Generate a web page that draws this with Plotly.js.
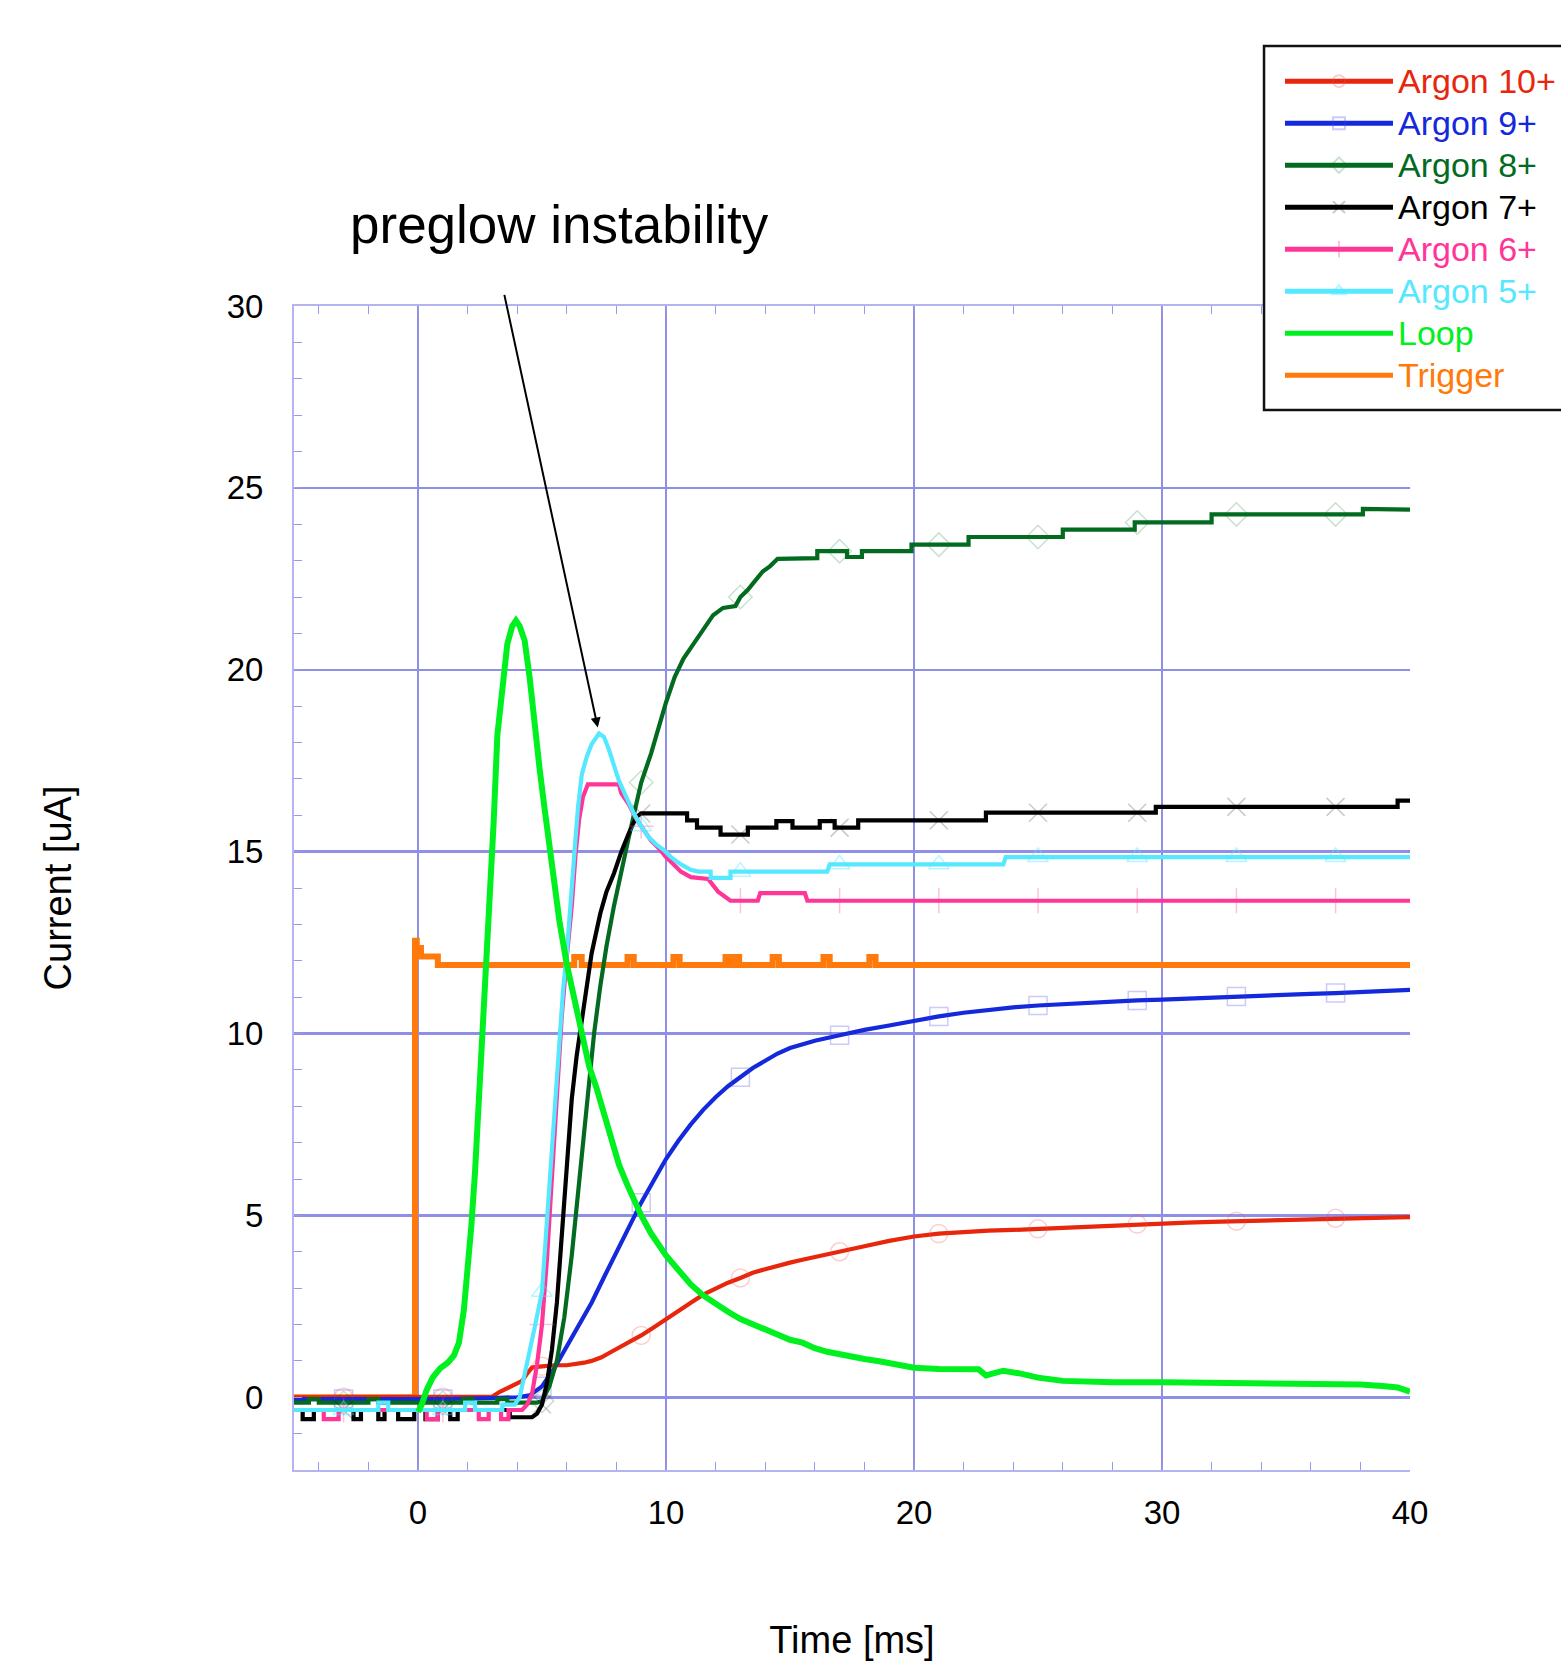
<!DOCTYPE html>
<html><head><meta charset="utf-8">
<script src="https://cdn.plot.ly/plotly-3.0.1.min.js"></script>
<style>html,body{margin:0;padding:0;background:#fff;} #chart{width:1561px;height:1664px;}</style>
</head><body><div id="chart"></div>
<script>
// x positions (ms) where the faint series symbols sit
const markerTimes = [-3, 1, 5, 9, 13, 17, 21, 25, 29, 33, 37];

// [time ms, current uA]
const argon10 = [[-5,0],[-3,0],[-1,0],[1,0],[3,0.02],[3.3,0.15],[3.6,0.25],[3.9,0.35],[4.2,0.45],[4.4,0.65],[4.6,0.82],[5,0.85],[5.5,0.88],[6,0.88],[6.3,0.9],[6.7,0.95],[7,1.0],[7.4,1.1],[7.8,1.25],[8.2,1.4],[8.6,1.55],[9,1.7],[9.5,1.92],[10,2.15],[10.5,2.4],[11,2.6],[11.5,2.82],[12,3.0],[12.5,3.15],[13,3.28],[13.5,3.42],[14,3.52],[14.5,3.62],[15,3.7],[15.5,3.78],[16,3.85],[17,4.0],[18,4.15],[19,4.3],[20,4.42],[21,4.5],[22,4.55],[23,4.58],[24,4.6],[25,4.63],[26,4.66],[27,4.7],[28,4.73],[29,4.76],[30,4.79],[31,4.8],[32,4.82],[33,4.84],[34,4.86],[35,4.88],[36,4.9],[37,4.92],[38,4.93],[39,4.94],[40,4.95]];

const argon9 = [[-5,-0.05],[-3,-0.05],[-1,-0.05],[1,-0.05],[3,-0.02],[4,0],[4.5,0.05],[5,0.3],[5.5,0.8],[6,1.4],[6.5,2.0],[7,2.6],[7.5,3.3],[8,4.0],[8.5,4.7],[9,5.35],[9.5,5.95],[10,6.55],[10.5,7.05],[11,7.5],[11.5,7.9],[12,8.25],[12.5,8.55],[13,8.8],[13.5,9.05],[14,9.25],[14.5,9.45],[15,9.6],[16,9.8],[17,9.95],[18,10.1],[19,10.22],[20,10.35],[21,10.47],[22,10.57],[23,10.65],[24,10.72],[25,10.77],[26,10.81],[27,10.85],[28,10.88],[29,10.91],[30,10.93],[31,10.96],[32,10.99],[33,11.02],[34,11.04],[35,11.06],[36,11.09],[37,11.11],[38,11.14],[39,11.17],[40,11.2]];

const argon8 = [[-5,-0.15],[-4.4,-0.15],[-4.4,-0.05],[-4.0,-0.05],[-4.0,-0.15],[-3,-0.15],[-2.0,-0.15],[-2.0,-0.05],[-1.6,-0.05],[-1.6,-0.15],[1,-0.15],[1.8,-0.15],[1.8,-0.05],[2.2,-0.05],[2.2,-0.15],[3.2,-0.15],[3.2,-0.05],[3.6,-0.05],[3.6,-0.15],[4.8,-0.15],[5,-0.1],[5.3,0.3],[5.6,1.0],[5.9,2.2],[6.2,3.9],[6.5,5.9],[6.8,8.0],[7.1,10.0],[7.35,11.3],[7.6,12.4],[7.9,13.5],[8.2,14.5],[8.5,15.4],[8.8,16.3],[9,16.9],[9.4,17.7],[9.7,18.4],[10,19.1],[10.35,19.8],[10.7,20.3],[11,20.6],[11.4,21.0],[11.9,21.5],[12.3,21.7],[12.8,21.75],[13,22.0],[13.3,22.2],[13.6,22.45],[13.9,22.7],[14.2,22.85],[14.5,23.05],[16.1,23.07],[16.1,23.26],[17,23.26],[17.3,23.26],[17.3,23.1],[17.9,23.1],[17.9,23.26],[19.9,23.26],[19.9,23.44],[21,23.44],[22.2,23.44],[22.2,23.65],[25,23.65],[26,23.65],[26,23.85],[28.9,23.85],[28.9,24.05],[29,24.05],[32,24.05],[32,24.27],[33,24.27],[37,24.27],[38.1,24.27],[38.1,24.42],[40,24.4]];

const argon7 = [[-5,-0.35],[-4.65,-0.35],[-4.65,-0.6],[-4.2,-0.6],[-4.2,-0.35],[-3,-0.35],[-2.6,-0.35],[-2.6,-0.6],[-2.3,-0.6],[-2.3,-0.35],[-1.6,-0.35],[-1.6,-0.6],[-1.35,-0.6],[-1.35,-0.35],[-0.8,-0.35],[-0.8,-0.6],[-0.15,-0.6],[-0.15,-0.35],[0.3,-0.35],[0.3,-0.6],[0.8,-0.6],[0.8,-0.35],[1,-0.35],[1.3,-0.35],[1.3,-0.6],[1.6,-0.6],[1.6,-0.35],[3.7,-0.35],[3.7,-0.55],[4.6,-0.55],[4.8,-0.45],[5,-0.2],[5.2,0.4],[5.4,1.3],[5.6,2.6],[5.8,4.5],[6,6.5],[6.2,8.2],[6.4,9.4],[6.6,10.3],[6.8,11.3],[7,12.2],[7.35,13.3],[7.6,13.9],[7.9,14.4],[8.2,15.0],[8.5,15.5],[8.8,15.95],[9,16.05],[10.85,16.05],[10.85,15.86],[11.25,15.86],[11.25,15.66],[12.2,15.66],[12.2,15.47],[13,15.47],[13.3,15.47],[13.3,15.66],[14.45,15.66],[14.45,15.84],[15.1,15.84],[15.1,15.66],[16.2,15.66],[16.2,15.84],[16.8,15.84],[16.8,15.66],[17,15.66],[17.75,15.66],[17.75,15.86],[21,15.86],[22.9,15.86],[22.9,16.07],[25,16.07],[29,16.07],[29.75,16.07],[29.75,16.23],[33,16.23],[37,16.23],[39.5,16.23],[39.5,16.4],[40,16.4]];

const argon6 = [[-5,-0.35],[-3.8,-0.35],[-3.8,-0.6],[-3.2,-0.6],[-3.2,-0.35],[-3,-0.35],[0.35,-0.35],[0.35,-0.6],[0.8,-0.6],[0.8,-0.35],[1,-0.35],[2.45,-0.35],[2.45,-0.6],[2.85,-0.6],[2.85,-0.35],[3.35,-0.35],[3.35,-0.6],[3.65,-0.6],[3.65,-0.35],[4.2,-0.35],[4.4,-0.2],[4.6,0.1],[4.8,0.9],[5,2.0],[5.2,3.8],[5.4,6.0],[5.6,8.4],[5.8,10.5],[6,12.1],[6.2,13.5],[6.35,14.9],[6.5,15.9],[6.65,16.5],[6.85,16.85],[8.1,16.85],[8.2,16.6],[8.5,16.3],[8.8,15.9],[9,15.7],[9.1,15.6],[9.4,15.3],[9.7,15.1],[10,14.85],[10.3,14.65],[10.6,14.45],[11,14.3],[11.7,14.25],[12.1,13.9],[12.6,13.65],[13,13.65],[13.7,13.65],[13.8,13.86],[15.6,13.86],[15.7,13.65],[17,13.65],[21,13.65],[25,13.65],[29,13.65],[33,13.65],[37,13.65],[40,13.65]];

const argon5 = [[-5,-0.35],[-3,-0.35],[-1.6,-0.35],[-1.6,-0.15],[-1.2,-0.15],[-1.2,-0.35],[1,-0.35],[1.9,-0.35],[1.9,-0.15],[2.3,-0.15],[2.3,-0.35],[3.4,-0.35],[3.4,-0.2],[3.9,-0.2],[4.1,0.0],[4.3,0.6],[4.5,1.2],[4.7,1.9],[5,2.9],[5.1,3.9],[5.3,5.9],[5.5,8.0],[5.7,9.9],[5.85,11.2],[6,12.2],[6.15,13.4],[6.3,14.9],[6.45,16.2],[6.6,17.1],[6.8,17.6],[7,17.95],[7.3,18.25],[7.5,18.15],[7.7,17.8],[7.9,17.35],[8.1,16.95],[8.4,16.5],[8.7,16.05],[9,15.7],[9.3,15.4],[9.6,15.2],[9.9,15.05],[10.2,14.85],[10.6,14.65],[11,14.5],[11.3,14.45],[11.8,14.45],[11.8,14.28],[12.6,14.28],[12.6,14.45],[13,14.45],[16.5,14.45],[16.6,14.65],[17,14.65],[21,14.65],[23.6,14.65],[23.7,14.85],[25,14.85],[29,14.85],[33,14.85],[37,14.85],[40,14.85]];

const loop = [[0,-0.4],[0.15,-0.2],[0.35,0.2],[0.6,0.55],[0.9,0.8],[1.2,0.95],[1.45,1.15],[1.65,1.5],[1.85,2.4],[2,3.4],[2.15,4.7],[2.3,6.2],[2.45,8.0],[2.6,10.0],[2.75,11.9],[2.9,14.0],[3.05,15.8],[3.2,18.2],[3.4,19.6],[3.6,20.7],[3.8,21.2],[3.95,21.35],[4.1,21.2],[4.3,20.8],[4.5,19.8],[4.7,18.4],[4.9,17.3],[5.1,16.2],[5.4,14.6],[5.7,13.1],[6,11.9],[6.3,10.9],[6.6,9.9],[6.9,9.1],[7.2,8.5],[7.5,7.8],[7.8,7.1],[8.1,6.4],[8.4,5.9],[8.7,5.4],[9,5.0],[9.4,4.5],[9.7,4.2],[10,3.9],[10.5,3.5],[11,3.1],[11.5,2.8],[12,2.55],[12.5,2.35],[13,2.15],[13.5,2.0],[14,1.85],[14.5,1.7],[15,1.58],[15.5,1.5],[16,1.35],[16.5,1.25],[17,1.17],[18,1.05],[18.6,0.99],[19.3,0.88],[20,0.81],[21,0.78],[22,0.77],[22.6,0.77],[22.9,0.6],[23.6,0.73],[24.3,0.65],[25,0.54],[26,0.45],[27,0.41],[28,0.41],[30,0.41],[31,0.4],[32,0.39],[33,0.38],[34,0.39],[35,0.37],[36,0.37],[37,0.37],[38,0.35],[39,0.3],[39.5,0.27],[40,0.15]];

const trigger = [[-5,0],[-0.12,12.55],[-0.05,12.35],[0.12,12.12],[0.8,11.88],[6.3,12.1],[6.6,11.88],[8.45,12.1],[8.7,11.88],[10.3,12.1],[10.55,11.88],[12.4,12.1],[12.6,11.88],[12.8,12.1],[12.95,11.88],[14.3,12.1],[14.55,11.88],[16.35,12.1],[16.6,11.88],[18.2,12.1],[18.45,11.88],[40,11.88]];

const seriesNames = ['Argon 10+','Argon 9+','Argon 8+','Argon 7+','Argon 6+','Argon 5+','Loop','Trigger'];
const xTickValues = [0, 10, 20, 30, 40];
const yTickValues = [0, 5, 10, 15, 20, 25, 30];

function tr(data, idx, color, width, symbol, mColor, shape) {
  const xs = data.map(p => p[0]);
  const ys = data.map(p => p[1]);
  const t = {
    type: 'scatter', x: xs, y: ys,
    name: '<span style="color:' + color + ';font-size:34px">' + seriesNames[idx] + '</span>',
    legendrank: idx + 1,
    line: {color: color, width: width, shape: shape || 'linear'},
    mode: symbol ? 'lines+markers' : 'lines',
    hoverinfo: 'skip', cliponaxis: true
  };
  if (symbol) {
    t.marker = {symbol: symbol, color: mColor,
      size: xs.map(v => markerTimes.indexOf(v) >= 0 ? 18 : 0),
      line: {color: mColor, width: 1.5}};
  }
  return t;
}

const traces = [
  tr(trigger, 7, '#ff7a0a', 6, null, null, 'hv'),
  tr(argon10, 0, '#e8260c', 4.2, 'circle-open', 'rgba(240,80,80,0.4)'),
  tr(argon9, 1, '#1428dc', 4.2, 'square-open', 'rgba(70,70,230,0.4)'),
  tr(argon8, 2, '#036b1f', 4.2, 'diamond-open', 'rgba(0,110,30,0.3)'),
  tr(argon7, 3, '#000000', 4.2, 'x-thin-open', 'rgba(0,0,0,0.3)'),
  tr(argon6, 4, '#ff3598', 4.2, 'cross-thin-open', 'rgba(255,60,150,0.45)'),
  tr(argon5, 5, '#55e8ff', 4.2, 'triangle-up-open', 'rgba(80,230,255,0.6)'),
  tr(loop, 6, '#00f020', 6, null, null)
];

// arrow points at the Argon 5+ maximum
let peak = argon5[0];
argon5.forEach(p => { if (p[1] > peak[1]) peak = p; });

const gridC = '#8f8fe8', lineC = '#b4b4f0', tickC = '#9a9aea';
const layout = {
  width: 1561, height: 1664,
  margin: {l: 294, r: 151, t: 306, b: 194, autoexpand: false},
  paper_bgcolor: '#fff', plot_bgcolor: '#fff',
  font: {family: 'Arial, "Liberation Sans", sans-serif', color: '#000'},
  showlegend: true,
  xaxis: {
    range: [-5, 40], tickvals: xTickValues, ticktext: xTickValues.map(String),
    showgrid: true, gridcolor: gridC, gridwidth: 2.5, zeroline: false,
    showline: true, linecolor: lineC, linewidth: 2, mirror: 'ticks',
    ticks: 'inside', ticklen: 8, tickcolor: tickC, tickwidth: 1,
    minor: {dtick: 2, tick0: 0, ticks: 'inside', ticklen: 8, tickcolor: tickC, tickwidth: 1, showgrid: false},
    tickfont: {size: 33, color: '#000'}, ticklabelstandoff: 12,
    title: {text: 'Time [ms]', font: {size: 38, color: '#000'}, standoff: 97},
    automargin: false, fixedrange: true
  },
  yaxis: {
    range: [-2, 30], tickvals: yTickValues, ticktext: yTickValues.map(String),
    showgrid: true, gridcolor: gridC, gridwidth: 2.5, zeroline: false,
    showline: true, linecolor: lineC, linewidth: 2, mirror: false,
    ticks: 'inside', ticklen: 8, tickcolor: tickC, tickwidth: 1,
    minor: {dtick: 1, tick0: 0, ticks: 'inside', ticklen: 8, tickcolor: tickC, tickwidth: 1, showgrid: false},
    tickfont: {size: 33, color: '#000'}, ticklabelstandoff: 22,
    title: {text: 'Current [uA]', font: {size: 38, color: '#000'}, standoff: 143},
    automargin: false, fixedrange: true
  },
  legend: {
    x: 0.8835, y: 1.2155, xanchor: 'left', yanchor: 'top',
    bgcolor: 'rgba(0,0,0,0)', borderwidth: 0,
    font: {size: 30}, itemwidth: 108, tracegroupgap: 0, itemsizing: 'constant'
  },
  shapes: [
    {type: 'rect', xref: 'paper', yref: 'paper', x0: 0.8692, x1: 1.25, y0: 0.9107, y1: 1.2234,
     line: {color: '#111', width: 2.5}, fillcolor: '#fff', layer: 'above'}
  ],
  annotations: [
    {xref: 'paper', yref: 'paper', x: 0.2375, y: 1.0696, xanchor: 'center', yanchor: 'middle',
     text: 'preglow instability', showarrow: false, font: {size: 53, color: '#000'}},
    {xref: 'x', yref: 'y', x: peak[0], y: peak[1], text: '', showarrow: true,
     ax: -95, ay: -440, arrowhead: 2, arrowsize: 1, arrowwidth: 2, arrowcolor: '#000', standoff: 6}
  ]
};

Plotly.newPlot('chart', traces, layout, {displayModeBar: false, staticPlot: true});
</script>
</body></html>
